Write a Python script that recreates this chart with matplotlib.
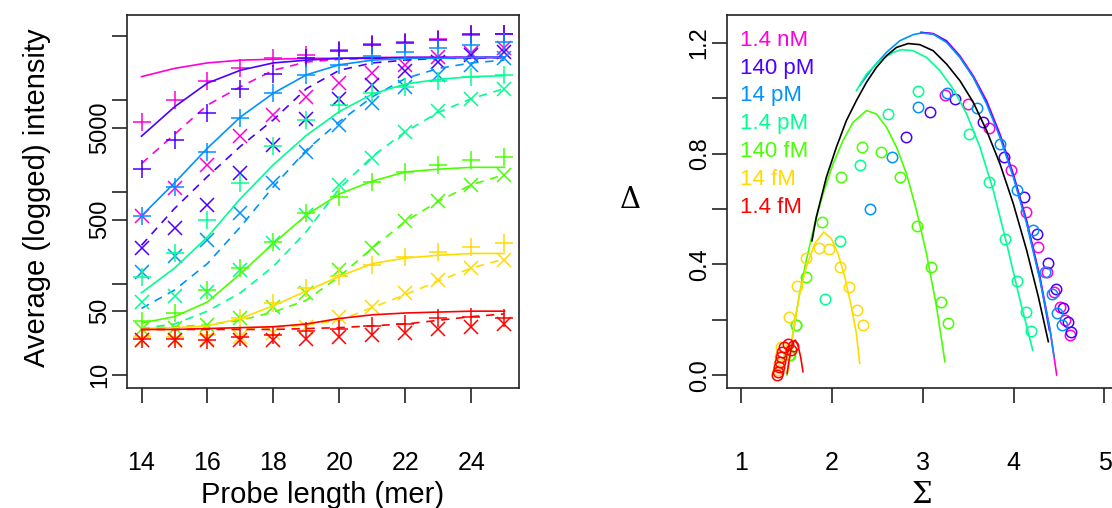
import numpy as np
import matplotlib
matplotlib.use("Agg")
from matplotlib import pyplot as plt
from matplotlib import font_manager as fm

# ---- left panel data: log10 average intensity vs probe length ----
probe_len = np.arange(14, 26)
conc = ["1.4 nM", "140 pM", "14 pM", "1.4 pM", "140 fM", "14 fM", "1.4 fM"]
colors = ["#FF00DB", "#4900FF", "#0092FF", "#00FF92", "#49FF00", "#FFDB00", "#FF0000"]

plus_pts = [
    [3.77, 4.01, 4.21, 4.35, 4.46, 4.50, 4.55, 4.62, 4.64, 4.67, 4.71, 4.73],
    [3.25, 3.57, 3.86, 4.12, 4.29, 4.46, 4.54, 4.61, 4.63, 4.66, 4.72, 4.73],
    [2.74, 3.06, 3.44, 3.81, 4.08, 4.28, 4.39, 4.48, 4.53, 4.57, 4.61, 4.64],
    [2.07, 2.33, 2.70, 3.10, 3.50, 3.79, 3.95, 4.08, 4.15, 4.21, 4.26, 4.28],
    [1.59, 1.68, 1.93, 2.17, 2.46, 2.77, 2.95, 3.11, 3.22, 3.30, 3.35, 3.38],
    [1.42, 1.42, 1.44, 1.62, 1.79, 1.95, 2.08, 2.20, 2.29, 2.35, 2.40, 2.44],
    [1.40, 1.40, 1.39, 1.42, 1.44, 1.48, 1.51, 1.54, 1.56, 1.62, 1.64, 1.62],
]
plus_fit = [
    [4.26, 4.35, 4.41, 4.44, 4.45, 4.46, 4.46, 4.47, 4.47, 4.47, 4.47, 4.47],
    [3.61, 3.93, 4.19, 4.33, 4.41, 4.44, 4.46, 4.46, 4.47, 4.47, 4.47, 4.47],
    [2.74, 3.10, 3.48, 3.82, 4.08, 4.28, 4.39, 4.44, 4.46, 4.46, 4.47, 4.47],
    [1.90, 2.17, 2.51, 2.93, 3.30, 3.62, 3.88, 4.07, 4.18, 4.23, 4.26, 4.27],
    [1.57, 1.64, 1.80, 2.11, 2.44, 2.75, 2.98, 3.12, 3.22, 3.25, 3.27, 3.27],
    [1.51, 1.52, 1.54, 1.62, 1.76, 1.92, 2.08, 2.22, 2.28, 2.31, 2.33, 2.33],
    [1.50, 1.50, 1.51, 1.52, 1.53, 1.56, 1.62, 1.66, 1.68, 1.69, 1.70, 1.70],
]
cross_pts = [
    [2.74, 3.04, 3.30, 3.61, 3.84, 4.04, 4.19, 4.30, 4.39, 4.47, 4.52, 4.57],
    [2.39, 2.61, 2.86, 3.21, 3.51, 3.80, 4.02, 4.17, 4.32, 4.42, 4.50, 4.53],
    [2.13, 2.30, 2.48, 2.77, 3.10, 3.44, 3.73, 3.97, 4.15, 4.28, 4.39, 4.46],
    [1.80, 1.86, 1.91, 2.15, 2.44, 2.75, 3.08, 3.37, 3.66, 3.88, 4.02, 4.12],
    [1.51, 1.52, 1.55, 1.62, 1.75, 1.90, 2.15, 2.39, 2.68, 2.90, 3.08, 3.19],
    [1.39, 1.39, 1.40, 1.42, 1.46, 1.53, 1.64, 1.75, 1.90, 2.04, 2.17, 2.26],
    [1.38, 1.38, 1.38, 1.39, 1.39, 1.40, 1.42, 1.44, 1.46, 1.50, 1.53, 1.56],
]
cross_fit = [
    [3.31, 3.63, 3.95, 4.15, 4.33, 4.42, 4.45, 4.46, 4.46, 4.47, 4.47, 4.47],
    [2.42, 2.82, 3.17, 3.50, 3.79, 4.13, 4.33, 4.41, 4.44, 4.46, 4.46, 4.47],
    [1.73, 1.93, 2.22, 2.62, 3.06, 3.46, 3.77, 4.04, 4.24, 4.35, 4.41, 4.44],
    [1.51, 1.56, 1.70, 1.90, 2.19, 2.57, 3.04, 3.39, 3.66, 3.87, 4.02, 4.13],
    [1.51, 1.53, 1.55, 1.60, 1.69, 1.82, 2.08, 2.39, 2.68, 2.90, 3.08, 3.19],
    [1.50, 1.50, 1.51, 1.51, 1.52, 1.55, 1.60, 1.74, 1.88, 2.03, 2.17, 2.27],
    [1.50, 1.50, 1.50, 1.50, 1.50, 1.51, 1.52, 1.54, 1.56, 1.60, 1.64, 1.67],
]

# ---- right panel data: Delta vs Sigma ----
sig_pts = [
    [3.243, 3.500, 3.732, 3.967, 4.136, 4.272, 4.364, 4.445, 4.511, 4.566, 4.621],
    [3.077, 2.813, 3.353, 3.658, 3.893, 4.114, 4.261, 4.382, 4.467, 4.548, 4.596, 4.629],
    [2.949, 2.665, 2.423, 3.268, 3.592, 3.849, 4.033, 4.217, 4.346, 4.419, 4.474, 4.529],
    [2.949, 2.618, 2.305, 2.085, 1.919, 3.511, 3.732, 3.904, 4.033, 4.136, 4.191],
    [1.893, 2.335, 2.103, 2.544, 2.746, 2.938, 3.085, 3.195, 3.279, 1.710, 1.599, 1.526, 1.540, 1.606],
    [1.717, 1.857, 1.967, 2.085, 2.188, 2.276, 2.342, 1.614, 1.526, 1.441, 1.430, 1.420, 1.410],
    [1.393, 1.404, 1.411, 1.422, 1.433, 1.448, 1.466, 1.514, 1.569, 1.550],
]
del_pts = [
    [1.013, 0.979, 0.891, 0.739, 0.589, 0.463, 0.373, 0.301, 0.247, 0.199, 0.145],
    [0.949, 0.861, 0.997, 0.913, 0.787, 0.643, 0.511, 0.406, 0.310, 0.241, 0.193, 0.157],
    [0.969, 0.787, 0.601, 1.017, 0.965, 0.835, 0.667, 0.523, 0.373, 0.295, 0.226, 0.181],
    [1.027, 0.943, 0.757, 0.485, 0.274, 0.871, 0.697, 0.490, 0.341, 0.227, 0.158],
    [0.553, 0.825, 0.715, 0.805, 0.715, 0.537, 0.391, 0.265, 0.187, 0.353, 0.181, 0.073, 0.073, 0.181],
    [0.424, 0.461, 0.457, 0.391, 0.317, 0.235, 0.181, 0.322, 0.211, 0.103, 0.070, 0.040, 0.020],
    [0.000, 0.013, 0.031, 0.049, 0.067, 0.085, 0.101, 0.113, 0.105, 0.090],
]

sig_fit = [
    [2.985, 3.114, 3.261, 3.408, 3.555, 3.702, 3.849, 3.996, 4.143, 4.290, 4.401, 4.474],
    [2.978, 3.114, 3.261, 3.408, 3.555, 3.702, 3.849, 3.996, 4.143, 4.290, 4.393],
    [2.305, 2.452, 2.599, 2.746, 2.893, 2.985, 3.114, 3.261, 3.408, 3.555, 3.702, 3.849,
     3.996, 4.143, 4.290, 4.401, 4.445],
    [2.268, 2.379, 2.526, 2.673, 2.765, 2.893, 3.040, 3.188, 3.335, 3.482, 3.629, 3.776,
     3.923, 4.070, 4.210],
    [1.504, 1.570, 1.643, 1.717, 1.809, 1.901, 2.011, 2.121, 2.232, 2.379, 2.489, 2.599,
     2.710, 2.820, 2.930, 3.040, 3.151, 3.243],
    [1.515, 1.570, 1.643, 1.717, 1.809, 1.908, 1.993, 2.066, 2.140, 2.213, 2.268, 2.305],
    [1.505, 1.535, 1.565, 1.595, 1.625, 1.655, 1.680],
]
del_fit = [
    [1.237, 1.233, 1.207, 1.153, 1.081, 0.991, 0.871, 0.727, 0.559, 0.355, 0.163, 0.001],
    [1.237, 1.232, 1.205, 1.149, 1.077, 0.985, 0.865, 0.721, 0.553, 0.349, 0.163],
    [1.045, 1.111, 1.165, 1.207, 1.229, 1.235, 1.231, 1.201, 1.147, 1.075, 0.979, 0.859,
     0.715, 0.547, 0.343, 0.163, 0.067],
    [1.027, 1.087, 1.135, 1.165, 1.175, 1.171, 1.147, 1.099, 1.033, 0.943, 0.823, 0.667,
     0.475, 0.271, 0.091],
    [0.001, 0.151, 0.295, 0.415, 0.547, 0.655, 0.763, 0.847, 0.913, 0.955, 0.943, 0.895,
     0.823, 0.727, 0.595, 0.439, 0.247, 0.049],
    [0.013, 0.151, 0.295, 0.391, 0.475, 0.517, 0.493, 0.439, 0.355, 0.247, 0.151, 0.043],
    [0.007, 0.070, 0.118, 0.127, 0.108, 0.065, 0.013],
]
# overall fit (black)
sig_all = [1.779, 1.827, 1.938, 2.048, 2.158, 2.268, 2.379, 2.489, 2.599, 2.710, 2.838,
           2.967, 3.114, 3.261, 3.408, 3.555, 3.702, 3.849, 3.996, 4.143, 4.272, 4.382]
del_all = [0.485, 0.571, 0.715, 0.823, 0.919, 0.991, 1.057, 1.111, 1.153, 1.183, 1.197,
           1.193, 1.171, 1.123, 1.063, 0.985, 0.883, 0.763, 0.619, 0.451, 0.283, 0.121]

# ---- fonts ----
names = {f.name for f in fm.fontManager.ttflist}
sans = "Liberation Sans" if "Liberation Sans" in names else "DejaVu Sans"
plt.rcParams["font.family"] = sans

fig = plt.figure(figsize=(11.12, 5.08), dpi=100)
ax1 = fig.add_axes([0.1142, 0.2362, 0.3525, 0.7343])
ax2 = fig.add_axes([0.6535, 0.2362, 0.3528, 0.7343])

lw = 1.2
for i in range(len(conc)):
    c = colors[i]
    ax1.plot(probe_len, 10 ** np.array(plus_fit[i]), color=c, lw=lw)
    ax1.plot(probe_len, 10 ** np.array(cross_fit[i]), color=c, lw=lw, dashes=(5, 4))
    ax1.plot(probe_len, 10 ** np.array(plus_pts[i]), ls="none", marker="+", ms=13,
             mew=1.1, color=c)
    ax1.plot(probe_len, 10 ** np.array(cross_pts[i]), ls="none", marker="x", ms=9.5,
             mew=1.1, color=c)

ax1.set_yscale("log")
ax1.set_xlim(13.56, 25.44)
ax1.set_ylim(10 ** 0.861, 10 ** 4.933)
ax1.set_xticks([14, 16, 18, 20, 22, 24])
ax1.set_yticks([10, 50, 100, 500, 1000, 5000, 10000, 50000])
ax1.set_yticklabels(["10", "50", "", "500", "", "5000", "", ""])
ax1.minorticks_off()
ax1.set_xlabel("Probe length (mer)", fontsize=21)
ax1.xaxis.set_label_coords(0.5, -0.287)
ax1.xaxis.label.set_va("center")
ax1.set_ylabel("Average (logged) intensity", fontsize=21)
ax1.yaxis.set_label_coords(-0.23, 0.51)
ax1.yaxis.label.set_va("center")

for i in range(len(conc)):
    c = colors[i]
    ax2.plot(sig_fit[i], del_fit[i], color=c, lw=lw)
    ax2.plot(sig_pts[i], del_pts[i], ls="none", marker="o", ms=7.5, mfc="none",
             mec=c, mew=1.1)
ax2.plot(sig_all, del_all, color="black", lw=lw)

ax2.set_xlim(0.84, 5.16)
ax2.set_ylim(-0.046, 1.30)
ax2.set_xticks([1, 2, 3, 4, 5])
ax2.set_yticks([0.0, 0.2, 0.4, 0.6, 0.8, 1.0, 1.2])
ax2.set_yticklabels(["0.0", "", "0.4", "", "0.8", "", "1.2"])
ax2.set_xlabel("\u03a3", fontsize=21, family="DejaVu Serif")
ax2.xaxis.set_label_coords(0.498, -0.287)
ax2.xaxis.label.set_va("center")
ax2.set_ylabel("\u0394", fontsize=21, family="DejaVu Serif", rotation=0)
ax2.yaxis.set_label_coords(-0.246, 0.504)
ax2.yaxis.label.set_va("center")
ax2.yaxis.label.set_ha("center")

for k, lab in enumerate(conc):
    ax2.text(0.034, 0.932 - 0.0745 * k, lab, color=colors[k], fontsize=16,
             transform=ax2.transAxes, va="center", ha="left")

for ax in (ax1, ax2):
    for s in ax.spines.values():
        s.set_linewidth(1.2)
        s.set_color("#222222")
    ax.tick_params(length=10.5, width=1.2, color="#222222")
    ax.tick_params(axis="x", pad=35)
    ax.tick_params(axis="y", pad=1)
    for t in ax.get_xticklabels():
        t.set_fontsize(18)
    for t in ax.get_yticklabels():
        t.set_fontsize(17)
        t.set_rotation(90)
        t.set_va("center")

fig.savefig("out.png", dpi=100)
